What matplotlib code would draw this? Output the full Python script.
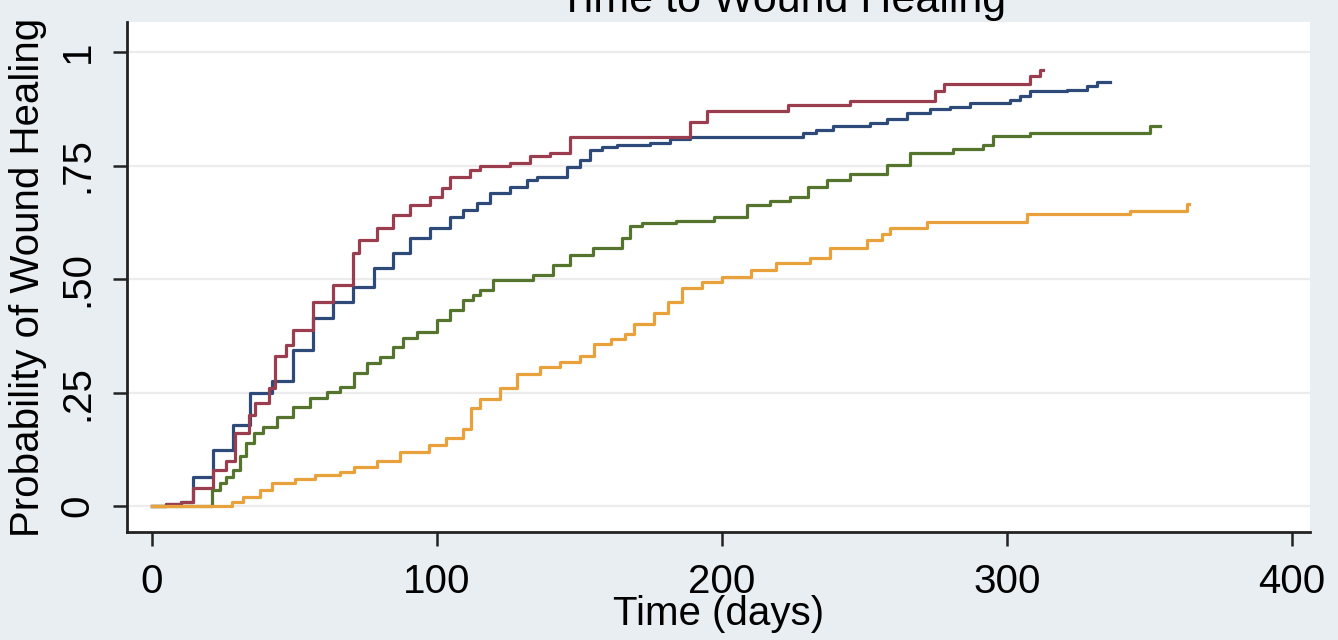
import matplotlib
matplotlib.use("Agg")
import matplotlib.pyplot as plt
from matplotlib import font_manager

plt.rcParams['font.family'] = ['Liberation Sans', 'DejaVu Sans']

# tick labels in the original look condensed; use the narrow face if it is there
installed = {f.name for f in font_manager.fontManager.ttflist}
tick_family = 'Liberation Sans Narrow' if 'Liberation Sans Narrow' in installed else 'Liberation Sans'

# Kaplan-Meier style step data (time in days, cumulative probability of healing)
blue_t = [0, 5, 10, 14.4, 21.4, 28.5, 34.4, 42, 49.6, 56.6, 63.5, 70.6, 77.7, 84.6, 90.5,
          97.5, 104.6, 109, 114, 118.6, 125.6, 131.6, 135, 145.6, 150, 153.7, 158, 163,
          174.7, 181.8, 188.8, 228.4, 233, 239, 252, 258, 265, 273, 280, 287, 301, 304.6,
          308, 321, 328, 331.6, 336]
blue_p = [0, 0.005, 0.01, 0.065, 0.123, 0.178, 0.25, 0.275, 0.343, 0.414, 0.45, 0.483, 0.524,
          0.557, 0.59, 0.612, 0.637, 0.652, 0.667, 0.689, 0.703, 0.718, 0.725, 0.747, 0.762,
          0.784, 0.791, 0.795, 0.799, 0.808, 0.813, 0.821, 0.828, 0.837, 0.844, 0.852, 0.865,
          0.874, 0.879, 0.887, 0.894, 0.902, 0.913, 0.916, 0.925, 0.934, 0.934]

red_t = [0, 5, 10, 14.4, 21.4, 26, 29, 34, 36, 41, 43, 47, 49.6, 56.6, 63.5, 70.6, 72.5, 79,
         84.6, 90.5, 97.5, 101.7, 104.6, 111.6, 115, 125.6, 132.6, 139.6, 146.7, 188.8, 194.7,
         223, 245, 274.7, 278, 308, 311.6, 312.6]
red_p = [0, 0.005, 0.01, 0.04, 0.08, 0.10, 0.16, 0.2, 0.227, 0.26, 0.33, 0.355, 0.388, 0.45,
         0.487, 0.557, 0.585, 0.612, 0.641, 0.663, 0.681, 0.70, 0.725, 0.74, 0.749, 0.755,
         0.77, 0.777, 0.813, 0.846, 0.869, 0.883, 0.891, 0.913, 0.929, 0.946, 0.96, 0.96]

green_t = [0, 21, 24, 26, 28.5, 31, 33, 35.6, 39, 43.7, 49.6, 55.4, 61.4, 66, 71, 75.4, 80,
           84.6, 88, 93, 100, 104.6, 109, 112.6, 115, 119.6, 133.7, 140.7, 146.7, 154.8, 165,
           167.7, 172, 184, 197, 208.7, 216.8, 224, 230, 236.8, 245, 258, 266, 281, 291.6,
           295, 308, 350, 353.7]
green_p = [0, 0.035, 0.05, 0.065, 0.08, 0.11, 0.138, 0.16, 0.175, 0.197, 0.219, 0.238, 0.252,
           0.263, 0.293, 0.315, 0.329, 0.351, 0.37, 0.384, 0.41, 0.432, 0.454, 0.465, 0.476,
           0.498, 0.51, 0.531, 0.553, 0.568, 0.59, 0.617, 0.624, 0.628, 0.637, 0.663, 0.672,
           0.681, 0.703, 0.717, 0.731, 0.751, 0.777, 0.786, 0.795, 0.815, 0.822, 0.837, 0.837]

orange_t = [0, 28, 32, 38, 42, 50, 57, 66, 71, 79, 87, 97, 103, 109, 112, 115, 122, 128, 136,
            143, 150, 155, 161, 166, 169, 176, 181, 186, 193, 200, 210, 219, 231, 238, 251,
            256, 259, 272, 307, 343, 363, 364]
orange_p = [0, 0.01, 0.02, 0.035, 0.05, 0.06, 0.068, 0.075, 0.087, 0.10, 0.12, 0.135, 0.15,
            0.17, 0.215, 0.235, 0.26, 0.29, 0.307, 0.318, 0.33, 0.358, 0.368, 0.38, 0.40,
            0.425, 0.45, 0.48, 0.493, 0.505, 0.52, 0.535, 0.546, 0.568, 0.586, 0.60, 0.612,
            0.626, 0.643, 0.65, 0.665, 0.665]

x_ticks = [0, 100, 200, 300, 400]
y_ticks = [0, 0.25, 0.5, 0.75, 1]
y_ticklabels = ['0', '.25', '.50', '.75', '1']

bg = '#e9eef2'
fig = plt.figure(figsize=(13.38, 6.4), dpi=100, facecolor=bg)
ax = fig.add_axes([127 / 1338, 1 - 532 / 640, (1310 - 127) / 1338, (532 - 22) / 640])
ax.set_facecolor('white')

series = [
    (blue_t, blue_p, '#2e4a78'),
    (red_t, red_p, '#9a3d4f'),
    (green_t, green_p, '#55752f'),
    (orange_t, orange_p, '#e9a23b'),
]
for t, p, c in series:
    ax.plot(t, p, drawstyle='steps-post', color=c, lw=2.3)

ax.set_xlim(-8.8, 406.3)
ax.set_ylim(-0.057, 1.066)
ax.set_xticks(x_ticks)
ax.set_yticks(y_ticks)
ax.set_yticklabels(y_ticklabels, rotation=90, va='center')

for yv in y_ticks:
    ax.axhline(yv, color='#ececec', lw=1.6, zorder=0)

for s in ['top', 'right']:
    ax.spines[s].set_visible(False)
for s in ['left', 'bottom']:
    ax.spines[s].set_linewidth(2.0)
    ax.spines[s].set_color('#222222')

ax.tick_params(axis='both', length=10, width=1.8, color='#222222', labelsize=29, pad=12)
for lab in ax.get_xticklabels() + ax.get_yticklabels():
    lab.set_family([tick_family, 'DejaVu Sans'])

ax.set_xlabel('Time (days)', fontsize=29, labelpad=-4)
ax.set_ylabel('Probability of Wound Healing', fontsize=29, labelpad=8)

fig.text(0.585, 1 - 12 / 640, 'Time to Wound Healing', fontsize=31, ha='center', va='baseline')

fig.savefig('out.png', dpi=100, facecolor=bg)
